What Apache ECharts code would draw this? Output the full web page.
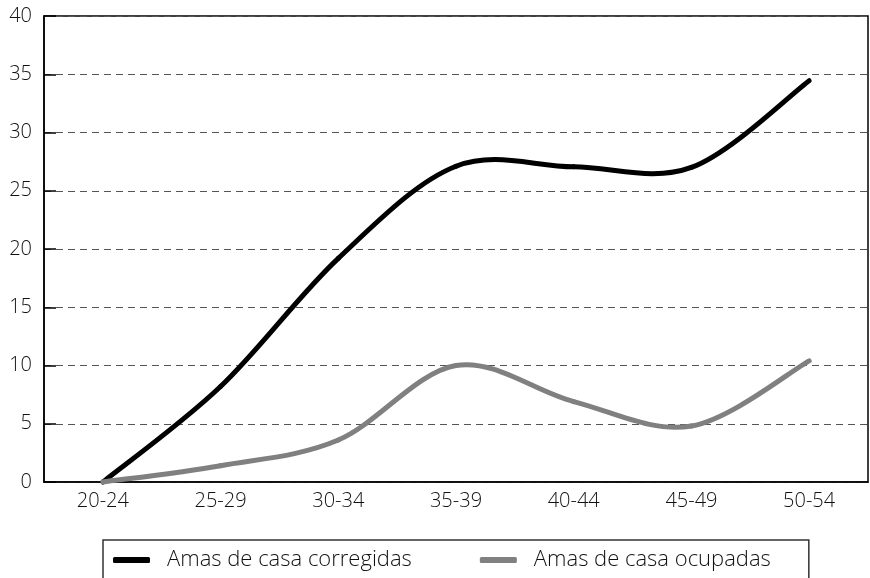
<!DOCTYPE html>
<html>
<head>
<meta charset="utf-8">
<script src="https://cdn.jsdelivr.net/npm/echarts@6/dist/echarts.min.js"></script>
<style>
    html, body { margin: 0; padding: 0; background: #fff; }
    #chart { width: 870px; height: 578px; }
</style>
</head>
<body>
<div id="chart"></div>
<script>
    // grupos de edad
    var categorias = ['20-24', '25-29', '30-34', '35-39', '40-44', '45-49', '50-54'];
    // series
    var corregidas = [0, 8.2, 19.2, 27.1, 27.05, 27.0, 34.45];
    var ocupadas = [0, 1.4, 3.6, 10.0, 6.9, 4.8, 10.4];
    var nombres = ['Amas de casa corregidas', 'Amas de casa ocupadas'];
    var colores = ['#000', '#808080'];
    // eje y
    var yMin = 0, yMax = 40, yPaso = 5;

    var chart = echarts.init(document.getElementById('chart'));
    var fuente = '"Open Sans"';

    // curva suavizada tipo Excel (Catmull-Rom) usando las escalas del eje
    function curva(valores, color) {
        return function (params, api) {
            var i = params.dataIndex;
            if (i >= valores.length - 1) return null;
            var p = function (k) {
                k = Math.max(0, Math.min(valores.length - 1, k));
                return api.coord([k, valores[k]]);
            };
            var p0 = p(i - 1), p1 = p(i), p2 = p(i + 1), p3 = p(i + 2);
            return {
                type: 'bezierCurve',
                shape: {
                    x1: p1[0], y1: p1[1], x2: p2[0], y2: p2[1],
                    cpx1: p1[0] + (p2[0] - p0[0]) / 6,
                    cpy1: p1[1] + (p2[1] - p0[1]) / 6,
                    cpx2: p2[0] - (p3[0] - p1[0]) / 6,
                    cpy2: p2[1] - (p3[1] - p1[1]) / 6
                },
                style: { stroke: color, lineWidth: 5, lineCap: 'round', fill: 'none' }
            };
        };
    }

    function serie(nombre, valores, color) {
        return {
            name: nombre,
            type: 'custom',
            renderItem: curva(valores, color),
            data: valores.map(function (v, k) { return [k, v]; }),
            encode: { x: 0, y: 1 },
            itemStyle: { color: color },
            clip: false
        };
    }

    var option = {
        animation: false,
        backgroundColor: '#fff',
        grid: {
            left: 44, right: 2, top: 16, bottom: 96,
            show: true,
            borderColor: '#000',
            borderWidth: 1.5,
            backgroundColor: 'transparent'
        },
        legend: {
            data: nombres,
            left: 103,
            top: 540,
            padding: [9, 38, 40, 10],
            borderColor: '#333',
            borderWidth: 1.5,
            itemGap: 68,
            itemWidth: 37,
            itemHeight: 6,
            icon: 'roundRect',
            textStyle: {
                fontFamily: fuente,
                fontWeight: 300,
                fontSize: 22,
                color: '#111',
                padding: [0, 0, 0, 12]
            }
        },
        xAxis: {
            type: 'category',
            data: categorias,
            boundaryGap: true,
            axisLine: { lineStyle: { color: '#000', width: 1.5 } },
            axisTick: { inside: true, length: 11, lineStyle: { color: '#000', width: 1.5 } },
            axisLabel: {
                fontFamily: fuente,
                fontWeight: 300,
                fontSize: 20,
                color: '#111',
                margin: 9
            },
            splitLine: { show: false }
        },
        yAxis: {
            type: 'value',
            min: yMin,
            max: yMax,
            interval: yPaso,
            axisLine: { show: true, lineStyle: { color: '#000', width: 1.5 } },
            axisTick: { show: true, inside: true, length: 12, lineStyle: { color: '#000', width: 1.5 } },
            axisLabel: {
                fontFamily: fuente,
                fontWeight: 300,
                fontSize: 20,
                color: '#111',
                margin: 12
            },
            splitLine: {
                show: true,
                lineStyle: { color: '#555', width: 1, type: [7, 5] }
            }
        },
        series: [
            serie(nombres[0], corregidas, colores[0]),
            serie(nombres[1], ocupadas, colores[1])
        ]
    };

    chart.setOption(option);
</script>
</body>
</html>
